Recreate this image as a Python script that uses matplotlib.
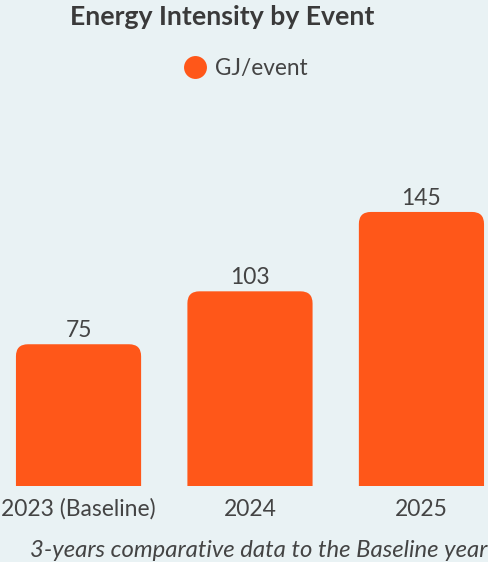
import matplotlib.pyplot as plt
from matplotlib.patches import FancyBboxPatch
from matplotlib.lines import Line2D

# energy intensity per event, GJ
years = ["2023 (Baseline)", "2024", "2025"]
gj_per_event = [75, 103, 145]

BG = "#E9F2F4"
BAR = "#FF5719"
TXT = "#444444"
W, H = 489, 562

plt.rcParams['font.family'] = ['Lato', 'DejaVu Sans']

fig = plt.figure(figsize=(W / 100, H / 100), dpi=100, facecolor=BG)

# axes spans the full width, baseline of the bars at y=486px
ax_bottom = (H - 486) / H
ax_top = (H - 100) / H
ax = fig.add_axes([0, ax_bottom, 1, ax_top - ax_bottom])
ax.set_facecolor(BG)
ax.set_xlim(-0.458, 2.394)
ax.set_ylim(0, 386 / 1.89)
for s in ax.spines.values():
    s.set_visible(False)
ax.set_xticks([])
ax.set_yticks([])

bar_w = 0.73
r_x = 0.07                       # corner radius in x data units (~12px)
aspect = (12 / 1.89) / r_x       # scale so the corner is round on screen
for i, v in enumerate(gj_per_event):
    extra = 12 / 1.89            # push bottom under the axis so only the top is rounded
    p = FancyBboxPatch((i - bar_w / 2, -extra), bar_w, v + extra,
                       boxstyle=f"round,pad=0,rounding_size={r_x}",
                       mutation_aspect=aspect, facecolor=BAR, edgecolor='none')
    ax.add_patch(p)
    ax.annotate(str(v), (i, v), xytext=(0, 5), textcoords='offset points',
                ha='center', va='baseline', fontsize=16.5, color=TXT)
    ax.annotate(years[i], (i, 0), xycoords=('data', 'axes fraction'),
                xytext=(0, -21.6), textcoords='offset points',
                ha='center', va='baseline', fontsize=16.5, color=TXT,
                annotation_clip=False)

fig.text(222 / W, 1 - 25 / H, "Energy Intensity by Event", ha='center',
         va='baseline', fontsize=19.2, fontweight='bold', color="#3A3A3A")

handle = Line2D([], [], marker='o', linestyle='none', markersize=16.5,
                markerfacecolor=BAR, markeredgecolor='none')
fig.legend([handle], ["GJ/event"], loc='center', bbox_to_anchor=(244.5 / W, 1 - 68 / H),
           frameon=False, fontsize=16.3, labelcolor=TXT, handletextpad=0.3,
           handlelength=1.2)

fig.text(487 / W, 1 - 557 / H, "3-years comparative data to the Baseline year",
         ha='right', va='baseline', fontsize=17.2, style='italic', color=TXT)

fig.savefig("out.png", dpi=100, facecolor=BG)
